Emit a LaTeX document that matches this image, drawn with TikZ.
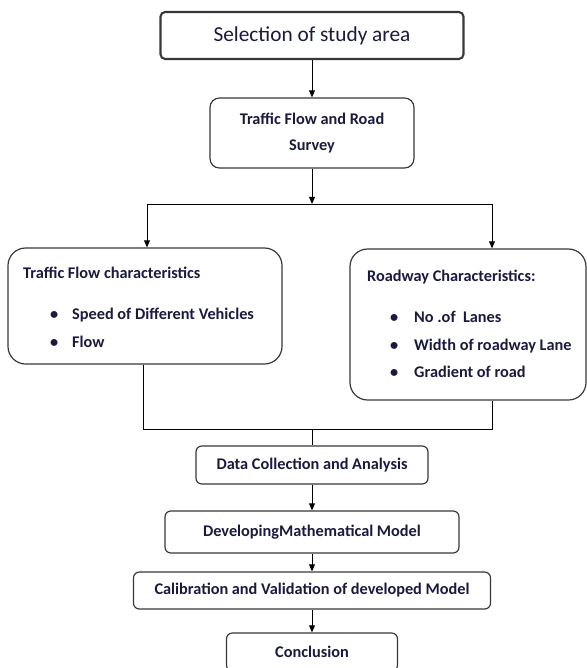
\documentclass[tikz,border=0pt]{standalone}
\usepackage{fontspec}
\setmainfont{Carlito}
\usetikzlibrary{arrows.meta}
\newlength\pxl
\setlength\pxl{0.03cm}
\definecolor{inknavy}{RGB}{26,26,62}
\definecolor{boxline}{RGB}{55,55,55}

\tikzset{
  stepbox/.style={draw=boxline, line width=1pt, rounded corners=#1, inner sep=0pt,
    align=center, text=inknavy, font=\bfseries\fontsize{13.9}{21.5}\selectfont},
  stepbox/.default=5pt,
  listtext/.style={anchor=west, inner sep=0pt, text=inknavy,
    font=\bfseries\fontsize{13.9}{16}\selectfont},
  flow/.style={line width=0.8pt, -{Triangle[length=6pt,width=5pt]}},
  linkline/.style={line width=0.8pt}
}

\begin{document}
\begin{tikzpicture}[x=0.03cm, y=-0.03cm]
				%%%%% boxes %%%%%
				\useasboundingbox (0,0) rectangle (587,668);

				\node[stepbox=4pt, line width=1.8pt, minimum width=303*\pxl, minimum height=47*\pxl,
					font=\fontsize{18.2}{21}\selectfont] (area) at (312,35.5) {Selection of study area};
				\node[stepbox=8pt, minimum width=204*\pxl, minimum height=70*\pxl] (survey) at (312,133)
					{Traffic Flow and Road\\Survey};

				\node[stepbox=15pt, minimum width=274*\pxl, minimum height=116*\pxl] (traffic) at (145,306) {};
				\node[listtext] (tfhead) at (23,273) {Traffic Flow characteristics};
				\node[listtext] (tfspeed) at (50,315) {\makebox[22\pxl][l]{\textbullet}Speed of Different Vehicles};
				\node[listtext] (tfflow) at (50,342) {\makebox[22\pxl][l]{\textbullet}Flow};

				\node[stepbox=15pt, minimum width=236*\pxl, minimum height=151*\pxl] (roadway) at (468,324.5) {};
				\node[listtext] (rdhead) at (367,277) {Roadway Characteristics:};
				\node[listtext] (rdlanes) at (390,317) {\makebox[24\pxl][l]{\textbullet}No .of~ Lanes};
				\node[listtext] (rdwidth) at (390,346) {\makebox[24\pxl][l]{\textbullet}Width of roadway Lane};
				\node[listtext] (rdgrad) at (390,372) {\makebox[24\pxl][l]{\textbullet}Gradient of road};

				\node[stepbox, minimum width=232*\pxl, minimum height=38*\pxl] (data) at (312,465) {Data Collection and Analysis};
				\node[stepbox, minimum width=294*\pxl, minimum height=42*\pxl] (model) at (312,532) {DevelopingMathematical Model};
				\node[stepbox, minimum width=357*\pxl, minimum height=37*\pxl] (calib) at (312,590.5) {Calibration and Validation of developed Model};
				\node[stepbox, minimum width=171*\pxl, minimum height=38*\pxl] (concl) at (312,652) {Conclusion};

				%%%%% connectors %%%%%
				\coordinate (split) at (312,204);
				\coordinate (splitl) at (147,204);
				\coordinate (splitr) at (492,204);
				\coordinate (mergel) at (143,429);
				\coordinate (merger) at (492,429);
				\coordinate (merge) at (312,429);

				\draw[flow] (area) -- (survey);
				\draw[flow] (survey) -- (split);
				\draw[linkline] (splitl) -- (splitr);
				\draw[flow] (splitl) -- (splitl |- traffic.north);
				\draw[flow] (splitr) -- (splitr |- roadway.north);

				\draw[linkline] (mergel |- traffic.south) -- (mergel) -- (merger) -- (merger |- roadway.south);
				\draw[linkline] (merge) -- (data);
				\draw[flow] (data) -- (model);
				\draw[flow] (model) -- (calib);
				\draw[flow] (calib) -- (concl);
\end{tikzpicture}
\end{document}
